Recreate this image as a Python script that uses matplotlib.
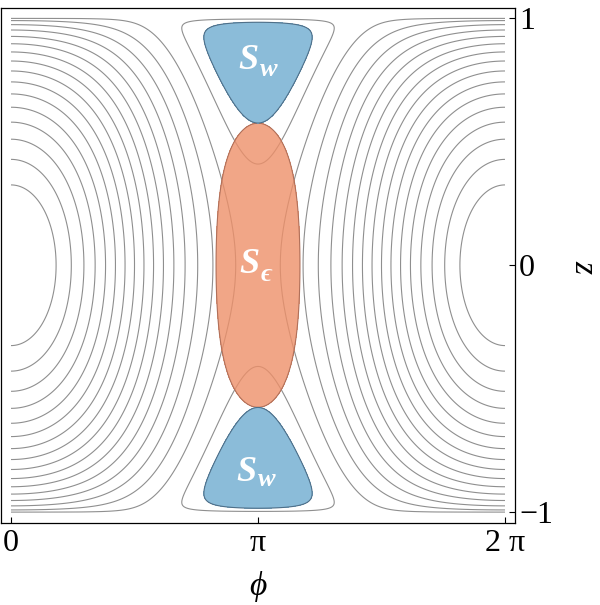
import numpy as np
import matplotlib
matplotlib.use("Agg")
import matplotlib.pyplot as plt

# ---------------- data ----------------
Lambda = 2.0                      # H = Lambda/2 z^2 - sqrt(1-z^2) cos(phi)
contour_levels = [-0.84, -0.72, -0.60, -0.48, -0.36, -0.24, -0.12, 0.0,
                  0.12, 0.24, 0.36, 0.48, 0.60, 0.72, 0.84, 0.96, 1.08, 1.20]
Sw_threshold = 1.149              # S_w = {H >= threshold}
Se_c0, Se_a, Se_b = 0.861, 0.234, 0.565   # S_eps = {-cos(phi) - a z^2 - b z^4 >= c0}
x_ticks = [0.0, np.pi, 2 * np.pi]
x_ticklabels = ["0", "π", "2 π"]
y_ticks = [-1.0, 0.0, 1.0]
y_ticklabels = ["−1", "0", "1"]
region_main = ["S", "S", "S"]
region_sub = ["w", "ϵ", "w"]
region_phi = [0.961 * np.pi, 0.965 * np.pi, 0.955 * np.pi]
region_z = [0.83, 0.004, -0.84]
sub_offsets = [(20, -9), (17, -10), (20, -7)]

# ---------------- style ----------------
times = "Liberation Serif"
serif = ["Liberation Serif", "DejaVu Serif"]
plt.rcParams["font.family"] = serif

line_gray = "#8f8f8f"
blue = "#8bbcd9"
blue_edge = "#4f6f88"
orange = "#ee9069"
orange_edge = "#b0705a"

fig = plt.figure(figsize=(6.0, 6.05), dpi=100)
ax = fig.add_axes([1 / 600, 1 - 523 / 605, 514 / 600, 515 / 605])

phi = np.linspace(0, 2 * np.pi, 901)
z = np.linspace(-1, 1, 1201)
P, Z = np.meshgrid(phi, z)
S = np.sqrt(np.clip(1 - Z ** 2, 0, None))
H = Lambda / 2 * Z ** 2 - S * np.cos(P)
F = -np.cos(P) - Se_a * Z ** 2 - Se_b * Z ** 4

ax.contour(P, Z, H, levels=contour_levels, colors=line_gray,
           linewidths=0.8, linestyles="solid", zorder=1)

# S_eps region (semi transparent)
ax.contourf(P, Z, F, levels=[Se_c0, 10], colors=[orange], alpha=0.8, zorder=2)
ax.contour(P, Z, F, levels=[Se_c0], colors=[orange_edge], linewidths=0.8,
           linestyles="solid", zorder=2.5)

# S_w regions (opaque)
ax.contourf(P, Z, H, levels=[Sw_threshold, 10], colors=[blue], zorder=3)
ax.contour(P, Z, H, levels=[Sw_threshold], colors=[blue_edge],
           linewidths=0.8, linestyles="solid", zorder=3.5)

for m, s, ph, zz, off in zip(region_main, region_sub, region_phi, region_z,
                             sub_offsets):
    ax.text(ph, zz, m, color="white", fontsize=26, family=times,
            style="italic", weight="bold", ha="center", va="center", zorder=5)
    ax.annotate(s, xy=(ph, zz), xycoords="data", xytext=off,
                textcoords="offset pixels", color="white", fontsize=19,
                family=serif, style="italic", weight="bold",
                ha="center", va="center", zorder=5)

ax.set_xlim(-0.0405 * np.pi, 2.0405 * np.pi)
ax.set_ylim(-1.043, 1.041)
ax.set_xticks(x_ticks)
ax.set_xticklabels(x_ticklabels)
ax.set_yticks(y_ticks)
ax.set_yticklabels(y_ticklabels)
ax.yaxis.tick_right()
ax.tick_params(axis="both", direction="in", length=4, width=0.8,
               labelsize=23, colors="black")
ax.tick_params(axis="x", pad=4)
ax.tick_params(axis="y", pad=3)
for lab in ax.get_xticklabels() + ax.get_yticklabels():
    lab.set_family(times)
for sp in ax.spines.values():
    sp.set_linewidth(0.9)

fig.text(258 / 600, 1 - 586 / 605, "ϕ", fontsize=24, style="italic",
         family=serif, ha="center", va="center")
fig.text(584 / 600, 1 - 266 / 605, "z", fontsize=24, style="italic",
         family=times, ha="center", va="center", rotation=-90)

fig.savefig("out.png", dpi=100)
